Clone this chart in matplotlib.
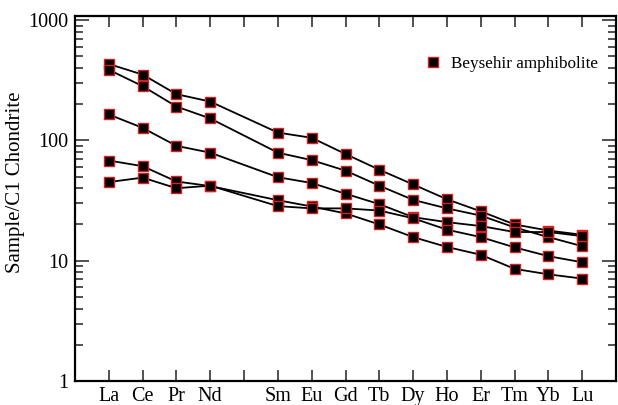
import matplotlib
matplotlib.use("Agg")
import matplotlib.pyplot as plt
from matplotlib.lines import Line2D
from matplotlib.ticker import LogLocator, FixedLocator, NullFormatter

plt.rcParams['font.family'] = ['Liberation Serif', 'DejaVu Serif']

# REE elements and their positions (Pm gap at position 5)
elements = ['La', 'Ce', 'Pr', 'Nd', 'Sm', 'Eu', 'Gd', 'Tb', 'Dy', 'Ho', 'Er', 'Tm', 'Yb', 'Lu']
positions = [1, 2, 3, 4, 6, 7, 8, 9, 10, 11, 12, 13, 14, 15]
tick_positions = list(range(1, 16))
tick_labels = ['La', 'Ce', 'Pr', 'Nd', '', 'Sm', 'Eu', 'Gd', 'Tb', 'Dy', 'Ho', 'Er', 'Tm', 'Yb', 'Lu']

# Chondrite-normalised values of the five samples
sample1 = [431, 352, 242, 210, 116, 105, 77, 57, 43, 32.4, 25.7, 20.0, 17.8, 16.4]
sample2 = [386, 282, 191, 152, 79, 68.5, 56, 42, 32, 27.2, 23.7, 18.9, 15.7, 13.2]
sample3 = [164, 127, 90, 79, 49.4, 44.2, 36, 29.5, 23, 20.9, 19.4, 17.3, 17.3, 16.0]
sample4 = [68, 61, 45.5, 41.7, 31.8, 28.2, 24.7, 20.0, 15.7, 13.0, 11.2, 8.55, 7.7, 7.1]
sample5 = [45, 49, 40, 42, 28.4, 27.2, 27.2, 26.1, 22.5, 18.1, 15.7, 12.9, 10.9, 9.7]
samples = [sample1, sample2, sample3, sample4, sample5]

legend_label = 'Beysehir amphibolite'
y_label = 'Sample/C1 Chondrite'

fig = plt.figure(figsize=(6.18, 4.05), dpi=100)
ax = fig.add_axes([75/618, 1-381/405, (616-75)/618, (381-16)/405])

for s in samples:
    ax.plot(positions, s, color='black', lw=1.3, marker='s', ms=7,
            mfc='black', mec='#d81e1e', mew=1.0, zorder=3)

ax.set_yscale('log')
ax.set_ylim(1, 1080)
ax.set_xlim(0, 16)

ax.xaxis.set_major_locator(FixedLocator(tick_positions))
ax.set_xticklabels(tick_labels)
ax.yaxis.set_major_locator(FixedLocator([1, 10, 100, 1000]))
ax.yaxis.set_minor_locator(LogLocator(base=10, subs=range(2, 10)))
ax.yaxis.set_minor_formatter(NullFormatter())
ax.set_yticklabels(['1', '10', '100', '1000'])

ax.tick_params(axis='both', which='both', direction='in', top=True, right=True,
               labelsize=14.5, width=1.1, color='#222222')
ax.tick_params(axis='x', which='major', length=8, pad=4)
ax.tick_params(axis='y', which='major', length=10, pad=5)
ax.tick_params(axis='y', which='minor', length=6)
for sp in ax.spines.values():
    sp.set_linewidth(1.6)

ax.set_ylabel(y_label, fontsize=15)
ax.yaxis.set_label_coords(-0.093, 0.545)

handle = Line2D([], [], ls='none', marker='s', ms=7, mfc='black', mec='#d81e1e', mew=1.0)
leg = ax.legend([handle], [legend_label], loc='center left', frameon=False,
                bbox_to_anchor=(424/618, 1-64/405), bbox_transform=fig.transFigure,
                fontsize=12.3, handlelength=1.0, handletextpad=0.6, borderpad=0, borderaxespad=0)

fig.savefig('out.png', dpi=100)
